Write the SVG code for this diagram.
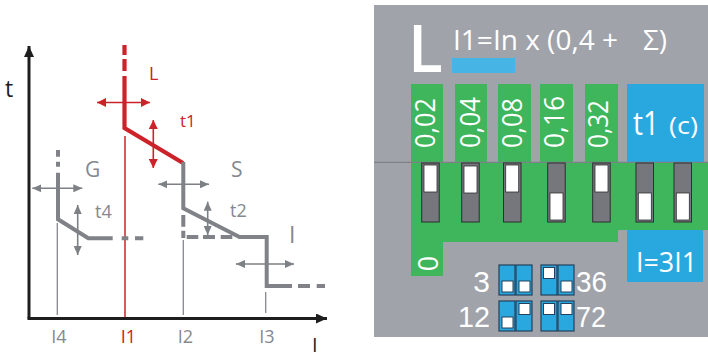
<svg xmlns="http://www.w3.org/2000/svg" width="708" height="357" viewBox="0 0 708 357">
<style>
text{font-family:"Open Sans","Liberation Sans",sans-serif}
.ax{stroke:#1e1e1e;stroke-width:3;fill:none}
.thinG{stroke:#86888d;stroke-width:1.3;fill:none}
.thinR{stroke:#cc2229;stroke-width:1.5;fill:none}
.thickG{stroke:#808288;stroke-width:4;fill:none;stroke-linejoin:miter}
.thickR{stroke:#cc2229;stroke-width:4.2;fill:none}
.arrG{stroke:#7d8085;stroke-width:1.6;fill:none;marker-start:url(#hG);marker-end:url(#hG)}
.arrR{stroke:#cc2229;stroke-width:1.6;fill:none;marker-start:url(#hR);marker-end:url(#hR)}
.lg{fill:#86888d}
.lr{fill:#cc2229}
.w{fill:#ffffff}
.dig{fill:#ffffff;font-family:"Liberation Sans","Open Sans",sans-serif;font-size:30px}
.sw{fill:#75777d;stroke:#2e2e30;stroke-width:1}
.sl{fill:#ffffff;stroke:#2e2e30;stroke-width:0.8}
.dip{fill:#29a8e0;stroke:#24405a;stroke-width:1.2}
.dw{fill:#ffffff;stroke:#24405a;stroke-width:1}
</style>
<defs>
<marker id="hG" markerUnits="userSpaceOnUse" markerWidth="10" markerHeight="8" refX="9" refY="4" orient="auto-start-reverse"><path d="M0,0 L9,4 L0,8 z" fill="#7d8085"/></marker>
<marker id="hR" markerUnits="userSpaceOnUse" markerWidth="10" markerHeight="9" refX="9" refY="4.5" orient="auto-start-reverse"><path d="M0,0 L9,4.5 L0,9 z" fill="#cc2229"/></marker>
<marker id="hK" markerUnits="userSpaceOnUse" markerWidth="12" markerHeight="10" refX="11" refY="5" orient="auto"><path d="M0,0 L11,5 L0,10 z" fill="#1e1e1e"/></marker>
</defs>

<g id="chart">
  <g id="axes">
    <path class="ax" d="M29,318.5 L29,46" marker-end="url(#hK)"/>
    <path class="ax" d="M27.5,318.5 L327,318.5" marker-end="url(#hK)"/>
    <text x="5" y="97" font-size="23" fill="#1e1e1e">t</text>
    <text x="312" y="352" font-size="20" fill="#1e1e1e" font-family="Liberation Sans, sans-serif">I</text>
  </g>
  <g id="thin-lines">
    <line class="thinG" x1="57.3" y1="223" x2="57.3" y2="315"/>
    <line class="thinR" x1="125" y1="136" x2="125" y2="317"/>
    <line class="thinG" x1="183.3" y1="240" x2="183.3" y2="315"/>
    <line class="thinG" x1="265.7" y1="292" x2="265.7" y2="313"/>
  </g>
  <g id="curve-L">
    <path class="thickR" d="M124.5,45 V55 M124.5,59 V71 M124.5,76 V128 L183,163"/>
    <line class="arrR" x1="97" y1="102.5" x2="150" y2="102.5"/>
    <line class="arrR" x1="153.3" y1="120" x2="153.3" y2="168"/>
    <text class="lr" x="149" y="80" font-size="18">L</text>
    <text class="lr" x="180" y="127" font-size="17">t1</text>
  </g>
  <g id="curve-S-I">
    <path class="thickG" d="M183.3,162 V208.3 L239.5,237 H266.7 V286 H292"/>
    <path class="thickG" d="M298,286 H310 M316.7,286 H325"/>
    <path class="thickG" d="M183.3,215 V226.7 M183.3,230.7 V238 M186.7,237 H198.3 M203,237 H215 M220.7,237 H232.3"/>
    <line class="arrG" x1="158.3" y1="184.3" x2="209" y2="184.3"/>
    <line class="arrG" x1="207.7" y1="201.7" x2="207.7" y2="235"/>
    <line class="arrG" x1="236" y1="264" x2="294" y2="264"/>
    <text class="lg" x="231" y="177" font-size="21">S</text>
    <text class="lg" x="230" y="217" font-size="18">t2</text>
    <text class="lg" x="289" y="243" font-size="23">I</text>
  </g>
  <g id="curve-G">
    <path class="thickG" d="M58,150 V156.7 M58,161.7 V166.7 M58,172.7 V219.3 L88.3,238.3 H112.7 M121.7,238.3 H128.3 M135,238.3 H143.3"/>
    <line class="arrG" x1="32.3" y1="188.3" x2="82.3" y2="188.3"/>
    <line class="arrG" x1="77.7" y1="205" x2="77.7" y2="255"/>
    <text class="lg" x="85" y="177" font-size="21">G</text>
    <text class="lg" x="95" y="218" font-size="18">t4</text>
  </g>
  <g id="current-labels" font-size="18">
    <text class="lg" x="59" y="343" text-anchor="middle">I4</text>
    <text class="lr" x="128.5" y="343" text-anchor="middle">I1</text>
    <text class="lg" x="185.5" y="343" text-anchor="middle">I2</text>
    <text class="lg" x="267" y="343" text-anchor="middle">I3</text>
  </g>
</g>

<g id="panel">
  <rect x="374" y="5" width="334" height="332" fill="#a0a3aa"/>
  <g id="title">
    <text class="w" x="409" y="71" font-size="62" stroke="#ffffff" stroke-width="2.2">L</text>
    <text class="w" font-size="28" y="50"><tspan x="453" textLength="165" lengthAdjust="spacingAndGlyphs">I1=In x (0,4 +</tspan><tspan x="643">Σ)</tspan></text>
    <rect x="452" y="58" width="63" height="15" fill="#47b4e6"/>
  </g>
  <g id="green-area">
    <path fill="#3fb55c" d="M411,84 H443 V162 H455 V84 H487 V162 H498 V84 H531 V162 H540 V84 H573 V162 H585 V84 H618 V162 H708 V230 H618 V242 H443 V276 H411 Z"/>
    <g fill="#ffffff" font-size="27">
      <text transform="translate(435,148) rotate(-90)" textLength="50" lengthAdjust="spacingAndGlyphs">0,02</text>
      <text transform="translate(480,148) rotate(-90)" textLength="51" lengthAdjust="spacingAndGlyphs">0,04</text>
      <text transform="translate(522,148) rotate(-90)" textLength="50" lengthAdjust="spacingAndGlyphs">0,08</text>
      <text transform="translate(564,148) rotate(-90)" textLength="52" lengthAdjust="spacingAndGlyphs">0,16</text>
      <text transform="translate(608,148) rotate(-90)" textLength="48" lengthAdjust="spacingAndGlyphs">0,32</text>
      <text transform="translate(438,263.5) rotate(-90)" text-anchor="middle">0</text>
    </g>
  </g>
  <g id="t1-box">
    <rect x="627" y="84" width="77" height="78" fill="#29a8e0"/>
    <text class="w" x="633" y="135" font-size="32" textLength="26" lengthAdjust="spacingAndGlyphs">t1</text>
    <text class="w" x="669" y="134" font-size="23" textLength="29" lengthAdjust="spacingAndGlyphs">(c)</text>
  </g>
  <line x1="374" y1="162.3" x2="708" y2="162.3" stroke="#7e8187" stroke-width="1.2"/>
  <g id="switches">
    <rect class="sw" x="421.7" y="163" width="17.5" height="59"/><rect class="sl" x="424" y="165" width="13" height="27"/>
    <rect class="sw" x="461.7" y="163" width="17.5" height="59"/><rect class="sl" x="464" y="166" width="13" height="27"/>
    <rect class="sw" x="503.5" y="163" width="17.5" height="59"/><rect class="sl" x="505.7" y="165" width="13" height="27"/>
    <rect class="sw" x="547.7" y="163" width="17.5" height="59"/><rect class="sl" x="550" y="193" width="13" height="27"/>
    <rect class="sw" x="592.7" y="163" width="17.5" height="59"/><rect class="sl" x="595" y="165" width="13" height="27"/>
    <rect class="sw" x="636" y="163" width="17.5" height="59"/><rect class="sl" x="638.3" y="193" width="13" height="27"/>
    <rect class="sw" x="674" y="163" width="17.5" height="59"/><rect class="sl" x="676.3" y="193" width="13" height="27"/>
  </g>
  <g id="i-box">
    <rect x="627" y="230" width="76" height="52" fill="#29a8e0"/>
    <text class="w" x="636" y="272" font-size="28" textLength="61" lengthAdjust="spacingAndGlyphs">I=3I1</text>
  </g>
  <g id="dip-3">
    <rect class="dip" x="499" y="265" width="16" height="30"/><rect class="dip" x="516" y="265" width="16" height="30"/>
    <rect class="dw" x="502" y="281" width="11" height="11"/><rect class="dw" x="519" y="281" width="11" height="11"/>
    <text class="dig" x="490" y="292" text-anchor="end">3</text>
  </g>
  <g id="dip-36">
    <rect class="dip" x="541" y="265" width="16" height="30"/><rect class="dip" x="558" y="265" width="16" height="30"/>
    <rect class="dw" x="543.5" y="267.5" width="11" height="11"/><rect class="dw" x="561" y="281" width="11" height="11"/>
    <text class="dig" x="576" y="292" textLength="31" lengthAdjust="spacingAndGlyphs">36</text>
  </g>
  <g id="dip-12">
    <rect class="dip" x="499" y="301" width="16" height="30"/><rect class="dip" x="516" y="301" width="16" height="30"/>
    <rect class="dw" x="502" y="317" width="11" height="11"/><rect class="dw" x="519" y="303.5" width="11" height="11"/>
    <text class="dig" x="458" y="327" textLength="32" lengthAdjust="spacingAndGlyphs">12</text>
  </g>
  <g id="dip-72">
    <rect class="dip" x="541" y="301" width="16" height="30"/><rect class="dip" x="558" y="301" width="16" height="30"/>
    <rect class="dw" x="543.5" y="303.5" width="11" height="11"/><rect class="dw" x="561" y="303.5" width="11" height="11"/>
    <text class="dig" x="576" y="327" textLength="30" lengthAdjust="spacingAndGlyphs">72</text>
  </g>
</g>
</svg>
